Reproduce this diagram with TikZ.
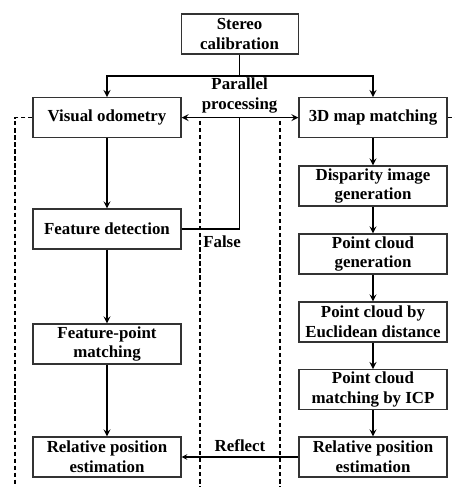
\documentclass[tikz,border=0pt]{standalone}
\usepackage{fontspec}
\setmainfont{Liberation Serif}
\usepackage{tikz}

\begin{document}
\begin{tikzpicture}[
    box/.style={rectangle, draw=black!80, thick, align=center, minimum width=3.7cm, minimum height=1.0cm, inner sep=1pt, font=\fontsize{12}{14.2}\selectfont\bfseries},
    lbl/.style={align=center, inner sep=0pt, font=\fontsize{12}{14.2}\selectfont\bfseries},
    arrow/.style={->, >=stealth, very thick},
    dashline/.style={dashed, thick, dash pattern=on 3pt off 2pt}
]
    \useasboundingbox (0,0) rectangle (11.375,-12.175);

    % Top box and split
    \node[box, minimum width=2.925cm] (stereo) at (5.99,-0.85) {Stereo\\calibration};
    \coordinate (split) at (5.99,-1.9);

    % Left column
    \node[box] (vo) at (2.675,-2.94) {Visual odometry};
    \node[box] (feat) at (2.675,-5.725) {Feature detection};
    \node[box] (fpm) at (2.675,-8.6) {Feature-point\\matching};
    \node[box] (rpeL) at (2.675,-11.425) {Relative position\\estimation};

    % Right column
    \node[box] (map) at (9.325,-2.94) {3D map matching};
    \node[box] (disp) at (9.325,-4.65) {Disparity image\\generation};
    \node[box] (pcg) at (9.325,-6.35) {Point cloud\\generation};
    \node[box] (pce) at (9.325,-8.05) {Point cloud by\\Euclidean distance};
    \node[box] (icp) at (9.325,-9.74) {Point cloud\\matching by ICP};
    \node[box] (rpeR) at (9.325,-11.425) {Relative position\\estimation};

    % Labels
    \node[lbl] (par) at (5.99,-2.38) {Parallel\\processing};
    \node[lbl] (false) at (5.55,-6.05) {False};
    \node[lbl] (reflect) at (6.0,-11.15) {Reflect};

    % Dashed frames
    \coordinate (lbot) at (0.375,-12.3);
    \coordinate (rend) at (11.5,-2.94);
    \coordinate (m1top) at (5.0,-3.02);
    \coordinate (m1bot) at (5.0,-12.3);
    \coordinate (m2top) at (7.0,-3.02);
    \coordinate (m2bot) at (7.0,-12.3);
    \draw[dashline] (vo.west) -| (lbot);
    \draw[dashline] (map.east) -- (rend);
    \draw[dashline] (m1top) -- (m1bot);
    \draw[dashline] (m2top) -- (m2bot);

    % Arrows
    \draw[very thick] (stereo) -- (split);
    \draw[arrow] (split) -| (vo.north);
    \draw[arrow] (split) -| (map.north);
    \draw[arrow, <->] (vo.east) -- (map.west);
    \draw[very thick] (feat.east) -| (split |- vo.east);
    \draw[arrow] (vo) -- (feat);
    \draw[arrow] (feat) -- (fpm);
    \draw[arrow] (fpm) -- (rpeL);
    \draw[arrow] (map) -- (disp);
    \draw[arrow] (disp) -- (pcg);
    \draw[arrow] (pcg) -- (pce);
    \draw[arrow] (pce) -- (icp);
    \draw[arrow] (icp) -- (rpeR);
    \draw[->, >=stealth, thick] (rpeR) -- (rpeL);
\end{tikzpicture}
\end{document}
